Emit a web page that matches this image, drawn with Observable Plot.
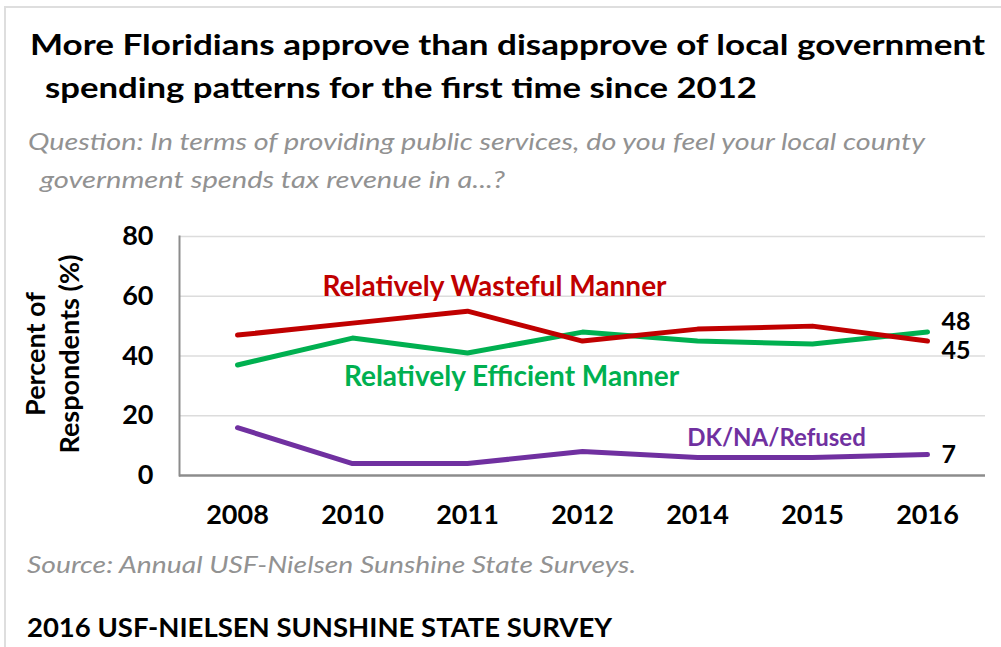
<!DOCTYPE html>
<html><head><meta charset="utf-8">
<script src="https://cdn.jsdelivr.net/npm/d3@7"></script>
<script src="https://cdn.jsdelivr.net/npm/@observablehq/plot@0.6"></script>
<style>
html,body{margin:0;padding:0;background:#fff;}
#wrap{position:relative;width:1001px;height:647px;overflow:hidden;font-family:Lato,"Open Sans",sans-serif;background:#fff;}
.t{position:absolute;white-space:nowrap;line-height:1;transform-origin:0 0;}
#frame{position:absolute;left:4px;top:6px;right:-10px;bottom:-10px;border-top:2px solid #dedede;border-left:2px solid #dedede;}
#chart{position:absolute;left:0;top:210px;}
</style></head><body><div id="wrap"><div id="frame"></div><div id="chart"></div></div>
<script>
// ---- data ----
const years = ["2008","2010","2011","2012","2014","2015","2016"];
const wasteful = [47,51,55,45,49,50,45];
const efficient = [37,46,41,48,45,44,48];
const dkna = [16,4,4,8,6,6,7];
const seriesNames = ["Relatively Wasteful Manner","Relatively Efficient Manner","DK/NA/Refused"];
const seriesColors = ["#C00000","#00B050","#7030A0"];
const yTicks = [0,20,40,60,80];
const yTitle = "Percent of\nRespondents (%)";
const titleLines = ["More Floridians approve than disapprove of local government","spending patterns for the first time since 2012"];
const subtitleLines = ["Question: In terms of providing public services, do you feel your local county","government spends tax revenue in a...?"];
const sourceText = "Source: Annual USF-Nielsen Sunshine State Surveys.";
const footerText = "2016 USF-NIELSEN SUNSHINE STATE SURVEY";

const seriesValues = [wasteful, efficient, dkna];
const rows = [];
[1,0,2].forEach(s => years.forEach((y,i) => rows.push({year:y, value:seriesValues[s][i], series:seriesNames[s]})));
const lastRows = seriesNames.map((n,s) => ({year:years[years.length-1], value:seriesValues[s][years.length-1], series:n}));

const wrap = document.getElementById("wrap");
function addText(txt, o){
  const d = document.createElement("div");
  d.className = "t";
  d.textContent = txt;
  d.style.left = o.x + "px";
  d.style.fontSize = o.size + "px";
  d.style.fontWeight = o.weight || 400;
  d.style.fontStyle = o.italic ? "italic" : "normal";
  d.style.color = o.color || "#000";
  wrap.appendChild(d);
  const w = d.getBoundingClientRect().width;
  const p = document.createElement("span");
  p.style.cssText = "display:inline-block;width:0;height:0;vertical-align:baseline;";
  d.appendChild(p);
  const base = p.getBoundingClientRect().top - d.getBoundingClientRect().top;
  d.style.top = (o.baseline - base) + "px";
  if (o.width) d.style.transform = `scaleX(${o.width / w})`;
}
addText(titleLines[0], {x:30, baseline:55, size:28, weight:700, width:955});
addText(titleLines[1], {x:45, baseline:98, size:28, weight:700, width:712});
addText(subtitleLines[0], {x:28, baseline:150, size:24, italic:true, color:"#929292", width:897});
addText(subtitleLines[1], {x:40, baseline:188, size:24, italic:true, color:"#929292", width:465});
addText(sourceText, {x:27, baseline:573, size:23, italic:true, color:"#929292", width:609});
addText(footerText, {x:27, baseline:637, size:26, weight:700, width:585});

const labelMarks = [
  Plot.text([seriesNames[0]], {x:()=>"2011", y:()=>63, dx:27, fill:seriesColors[0], fontSize:28, fontWeight:"bold"}),
  Plot.text([seriesNames[1]], {x:()=>"2011", y:()=>33, dx:44, fill:seriesColors[1], fontSize:28, fontWeight:"bold"}),
  Plot.text([seriesNames[2]], {x:()=>"2015", y:()=>12.4, dx:-36, fill:seriesColors[2], fontSize:24, fontWeight:"bold"})
];
const endDy = [10, -10, 0];
const endMarks = lastRows.map((r,i) => Plot.text([r], {x:"year", y:"value", text:d=>String(d.value), dx:14, dy:endDy[i], textAnchor:"start", fill:"#000", fontSize:25, fontWeight:"bold"}));

const chart = Plot.plot({
  width:1001, height:320,
  marginLeft:179, marginRight:16, marginTop:26, marginBottom:55,
  x:{type:"point", domain:years, padding:0.5},
  y:{domain:[0,80]},
  color:{domain:seriesNames, range:seriesColors},
  style:{fontFamily:"Lato, 'Open Sans', sans-serif", color:"#000", background:"transparent", overflow:"visible"},
  marks:[
    Plot.gridY(yTicks.filter(d=>d>0), {stroke:"#dcdcdc", strokeOpacity:1, strokeWidth:1.5}),
    Plot.frame({anchor:"left", stroke:"#8c8c8c", strokeWidth:2}),
    Plot.ruleY([0], {stroke:"#8c8c8c", strokeWidth:2.5}),
    Plot.axisY({ticks:yTicks, tickSize:0, tickPadding:26, fontSize:27, fontWeight:"bold", label:null}),
    Plot.axisX({tickSize:0, tickPadding:29, fontSize:27, fontWeight:"bold", label:null}),
    Plot.text([yTitle], {frameAnchor:"left", textAnchor:"middle", lineAnchor:"middle", dx:-128, dy:-2, rotate:-90, fontSize:27, fontWeight:"bold", lineHeight:1.25, fill:"#000"}),
    Plot.lineY(rows, {x:"year", y:"value", z:"series", stroke:"series", strokeWidth:5, strokeLinecap:"round", strokeLinejoin:"round"}),
    ...labelMarks,
    ...endMarks
  ]
});
document.getElementById("chart").appendChild(chart);
</script></body></html>
